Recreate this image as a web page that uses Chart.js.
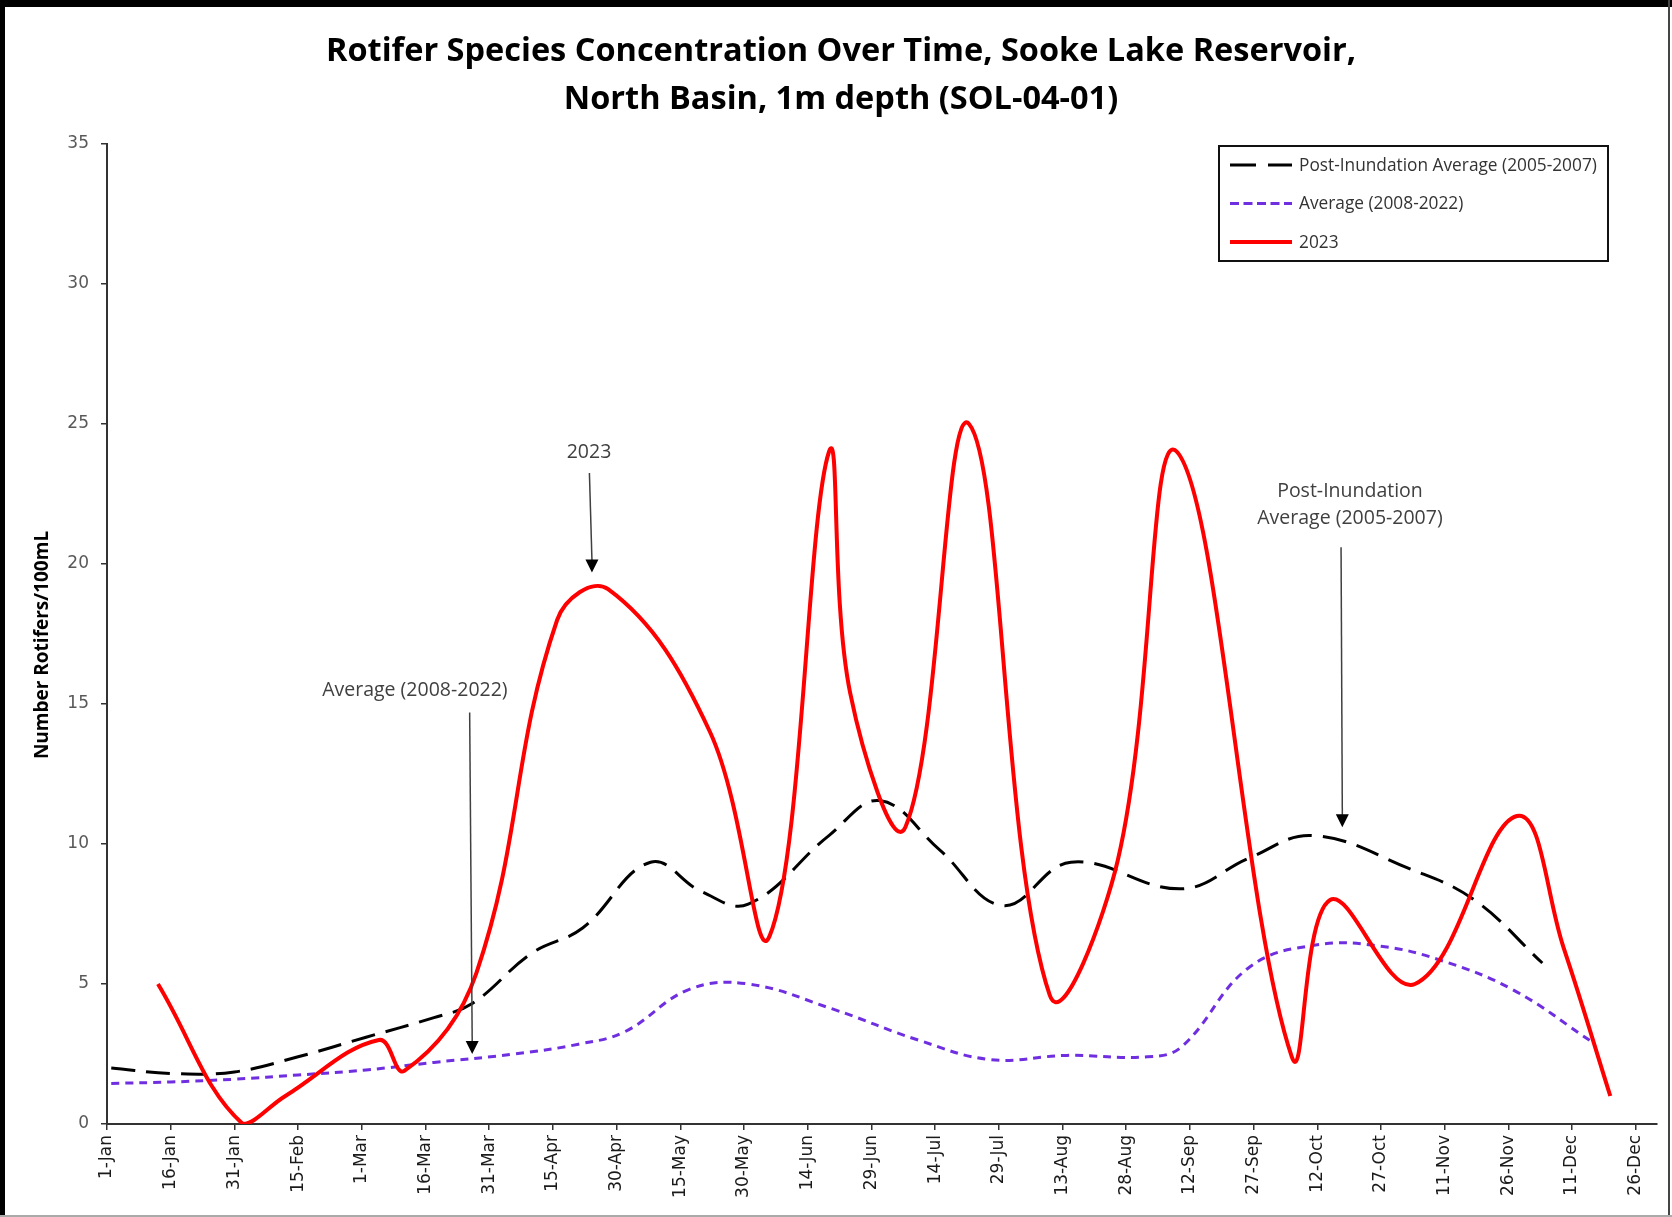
<!DOCTYPE html>
<html>
<head>
<meta charset="utf-8">
<script src="https://cdn.jsdelivr.net/npm/chart.js@4.4.0/dist/chart.umd.min.js"></script>
<style>
  html, body { margin: 0; padding: 0; background: #fff; }
  #wrap { position: relative; width: 1672px; height: 1217px; }
</style>
</head>
<body>
<div id="wrap"><canvas id="rotiferChart" width="1672" height="1217"></canvas></div>
<script>
// x axis tick labels, one every 15 days
const xTickLabels = ['1-Jan','16-Jan','31-Jan','15-Feb','1-Mar','16-Mar','31-Mar','15-Apr','30-Apr',
  '15-May','30-May','14-Jun','29-Jun','14-Jul','29-Jul','13-Aug','28-Aug','12-Sep','27-Sep',
  '12-Oct','27-Oct','11-Nov','26-Nov','11-Dec','26-Dec']

// Post-Inundation Average (2005-2007)
const postDays   = [1, 16, 30, 45, 61, 77, 86, 100, 112, 128, 140, 151, 170, 182, 196, 211, 227, 253, 269, 284, 307, 322, 338]
const postValues = [2.0, 1.8, 1.86, 2.4, 3.1, 3.8, 4.3, 6.1, 7.0, 9.35, 8.3, 7.85, 10.3, 11.55, 9.8, 7.8, 9.35, 8.4, 9.5, 10.3, 9.1, 8.0, 5.75]

// Average (2008-2022)
const avgDays   = [1, 15, 30, 45, 61, 77, 96, 111, 122, 137, 151, 171, 191, 208, 226, 245, 253, 269, 285, 300, 314, 331, 350]
const avgValues = [1.45, 1.5, 1.6, 1.75, 1.93, 2.2, 2.5, 2.85, 3.3, 4.8, 5.0, 4.1, 3.0, 2.3, 2.45, 2.4, 2.75, 5.6, 6.4, 6.35, 5.85, 4.8, 2.9]

// 2023
const y2023Days   = [12, 32, 42, 64, 70, 87, 106, 118, 142, 156, 170, 175, 188, 203, 222, 238, 252, 279, 288, 308, 332, 343, 354]
const y2023Values = [5.0, 0.0, 1.0, 3.0, 1.9, 5.4, 18.0, 19.1, 14.0, 6.7, 24.0, 15.4, 10.6, 25.0, 4.6, 9.4, 24.0, 2.4, 8.0, 5.0, 11.0, 6.3, 1.0]

const titleLines = ['Rotifer Species Concentration Over Time, Sooke Lake Reservoir,', 'North Basin, 1m depth (SOL-04-01)']
const yTitle = 'Number Rotifers/100mL'

// callouts (in data units: day, value)
const callouts = [
  { lines: ['2023'], x: 113.5, y: 24.0, from: [113.6, 23.25], to: [114.2, 19.7] },
  { lines: ['Average (2008-2022)'], x: 72.5, y: 15.5, from: [85.4, 14.7], to: [86.0, 2.5] },
  { lines: ['Post-Inundation', 'Average (2005-2007)'], x: 292.7, y: 22.6, from: [290.6, 20.6], to: [290.9, 10.6] }
]

function pts(days, vals) {
  return days.map((d, i) => ({ x: d, y: vals[i] }))
}

function arrow(ctx, x1, y1, x2, y2) {
  const head = 13
  ctx.beginPath()
  ctx.moveTo(x1, y1)
  ctx.lineTo(x2, y2 - head + 1)
  ctx.stroke()
  ctx.beginPath()
  ctx.moveTo(x2, y2)
  ctx.lineTo(x2 - 6.5, y2 - head)
  ctx.lineTo(x2 + 6.5, y2 - head)
  ctx.closePath()
  ctx.fill()
}

const decor = {
  id: 'decor',
  beforeDraw(chart) {
    const ctx = chart.ctx
    ctx.save()
    ctx.fillStyle = '#fff'
    ctx.fillRect(0, 0, chart.width, chart.height)
    ctx.restore()
  },
  afterDraw(chart) {
    const { ctx, scales: { x, y } } = chart
    ctx.save()

    // title
    ctx.fillStyle = '#000'
    ctx.textAlign = 'center'
    ctx.textBaseline = 'middle'
    ctx.font = 'bold 32.5px "Open Sans"'
    titleLines.forEach((t, i) => ctx.fillText(t, 841, 52 + i * 48))

    // y axis title
    ctx.save()
    ctx.translate(43, 645)
    ctx.rotate(-Math.PI / 2)
    ctx.font = 'bold 19px "Open Sans"'
    ctx.fillText(yTitle, 0, 0)
    ctx.restore()

    // callouts
    ctx.font = '19.5px "Open Sans"'
    callouts.forEach(c => {
      ctx.fillStyle = '#404040'
      c.lines.forEach((t, i) => ctx.fillText(t, x.getPixelForValue(c.x), y.getPixelForValue(c.y) + i * 27))
      ctx.strokeStyle = '#404040'
      ctx.fillStyle = '#000'
      ctx.lineWidth = 1.5
      arrow(ctx, x.getPixelForValue(c.from[0]), y.getPixelForValue(c.from[1]),
                 x.getPixelForValue(c.to[0]), y.getPixelForValue(c.to[1]))
    })

    // legend box
    const order = [1, 2, 0]
    ctx.fillStyle = '#fff'
    ctx.fillRect(1219, 146, 389, 115)
    ctx.strokeStyle = '#111'
    ctx.lineWidth = 2
    ctx.strokeRect(1219, 146, 389, 115)
    ctx.font = '17.3px "Open Sans"'
    ctx.textAlign = 'left'
    order.forEach((di, row) => {
      const ds = chart.data.datasets[di]
      const ly = 165 + row * 38.5
      ctx.strokeStyle = ds.borderColor
      ctx.lineWidth = ds.borderWidth
      ctx.setLineDash(ds.legendDash || [])
      ctx.beginPath()
      ctx.moveTo(1230, ly)
      ctx.lineTo(1292, ly)
      ctx.stroke()
      ctx.setLineDash([])
      ctx.fillStyle = '#333'
      ctx.fillText(ds.label, 1299, ly + 1)
    })

    // outer frame
    ctx.fillStyle = '#000'
    ctx.fillRect(0, 0, chart.width, 7)
    ctx.fillRect(0, 0, 5, chart.height)
    ctx.fillStyle = '#444'
    ctx.fillRect(chart.width - 4, 0, 2, chart.height)
    ctx.fillStyle = '#aaa'
    ctx.fillRect(0, chart.height - 2, chart.width, 2)
    ctx.restore()
  }
}

const config = {
  type: 'line',
  data: {
    datasets: [
      {
        label: '2023',
        data: pts(y2023Days, y2023Values),
        borderColor: '#ff0000',
        borderWidth: 4,
        tension: 0.4,
        pointRadius: 0,
        order: 0
      },
      {
        label: 'Post-Inundation Average (2005-2007)',
        data: pts(postDays, postValues),
        borderColor: '#000000',
        borderWidth: 3,
        borderDash: [24, 11],
        legendDash: [26, 12],
        tension: 0.4,
        pointRadius: 0,
        order: 2
      },
      {
        label: 'Average (2008-2022)',
        data: pts(avgDays, avgValues),
        borderColor: '#6f2fe0',
        borderWidth: 3,
        borderDash: [8, 6],
        legendDash: [9, 4.5],
        tension: 0.4,
        pointRadius: 0,
        order: 1
      }
    ]
  },
  options: {
    responsive: false,
    animation: false,
    layout: { padding: { top: 144, right: 15, left: 0, bottom: 0 } },
    plugins: {
      legend: { display: false },
      tooltip: { enabled: false }
    },
    scales: {
      x: {
        type: 'linear',
        min: 0,
        max: 365,
        afterFit(s) { s.height = 93 },
        ticks: {
          stepSize: 15,
          includeBounds: false,
          autoSkip: false,
          minRotation: 90,
          maxRotation: 90,
          padding: 5,
          color: '#1a1a1a',
          font: { family: 'DejaVu Sans', size: 17 },
          callback: v => xTickLabels[v / 15]
        },
        grid: { drawOnChartArea: false, tickLength: 6, color: '#333', lineWidth: 1.5 },
        border: { color: '#333', width: 2 }
      },
      y: {
        min: 0,
        max: 35,
        afterFit(s) { s.width = 107 },
        ticks: {
          stepSize: 5,
          padding: 12,
          color: '#595959',
          font: { family: 'DejaVu Sans', size: 17 }
        },
        grid: { drawOnChartArea: false, tickLength: 6, color: '#333', lineWidth: 1.5 },
        border: { color: '#333', width: 2 }
      }
    }
  },
  plugins: [decor]
}

const rotiferChart = new Chart(document.getElementById('rotiferChart'), config)
</script>
</body>
</html>
